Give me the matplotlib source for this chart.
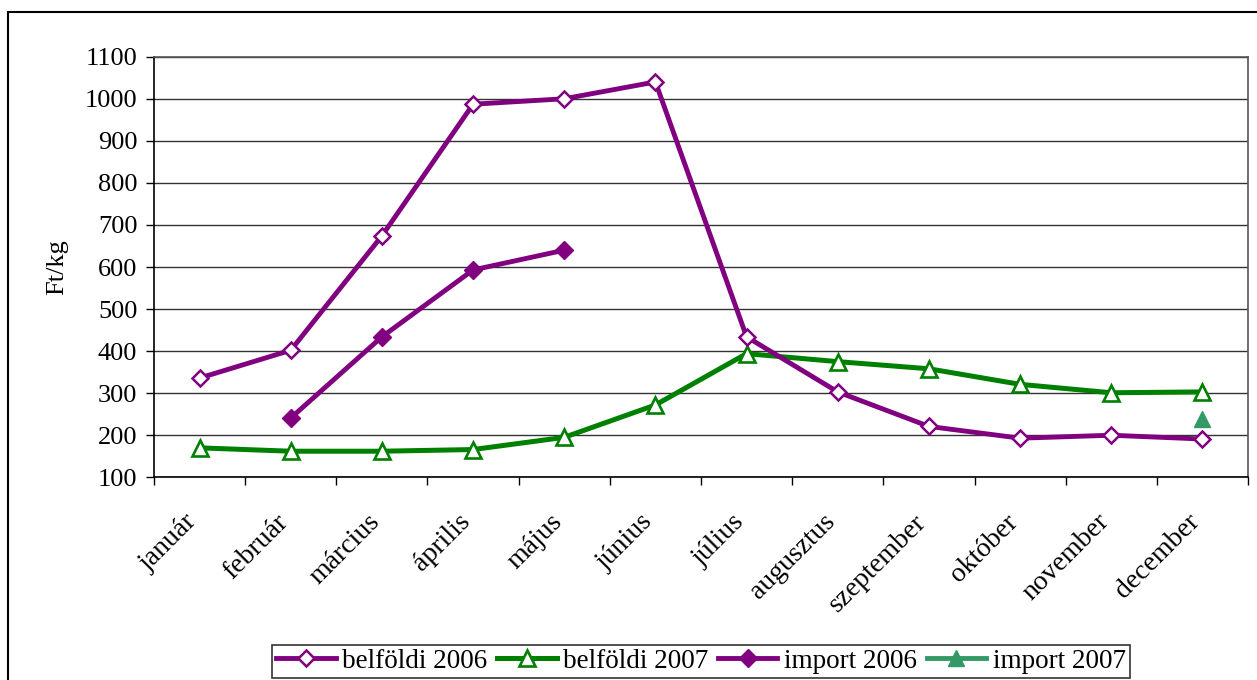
import matplotlib
matplotlib.use("Agg")
import matplotlib.pyplot as plt
from matplotlib.patches import Rectangle
import matplotlib.transforms as mtransforms
import numpy as np

months = ["január", "február", "március", "április", "május", "június",
          "július", "augusztus", "szeptember", "október", "november", "december"]
belfoldi_2006 = [336, 402, 674, 987, 1000, 1040, 434, 303, 221, 193, 200, 191]
belfoldi_2007 = [170, 162, 162, 166, 195, 272, 394, 375, 358, 321, 301, 303]
import_2006 = [None, 241, 434, 593, 640, None, None, None, None, None, None, None]
import_2007 = [None, None, None, None, None, None, None, None, None, None, None, 239]
y_ticks = list(range(100, 1101, 100))

plt.rcParams['font.family'] = ['Liberation Serif', 'DejaVu Serif']

W, H = 1257, 680
fig = plt.figure(figsize=(W / 100, H / 100), dpi=100)

def to_arr(v):
    return np.array([np.nan if x is None else x for x in v], dtype=float)

ax = fig.add_axes([154 / W, 1 - 477.3 / H, (1248 - 154) / W, (477.3 - 56.7) / H])
x = np.arange(len(months))

purple = "#800080"
green = "#008000"
green2 = "#339966"

l1, = ax.plot(x, to_arr(belfoldi_2006), color=purple, lw=3.5, marker="D", ms=8.5,
              mfc="white", mec=purple, mew=1.8, label="belföldi 2006", zorder=4)
l2, = ax.plot(x, to_arr(belfoldi_2007), color=green, lw=3.6, marker="^", ms=12,
              mfc="white", mec=green, mew=1.9, label="belföldi 2007", zorder=3)
l3, = ax.plot(x, to_arr(import_2006), color=purple, lw=3.5, marker="D", ms=9,
              mfc=purple, mec=purple, label="import 2006", zorder=4)
l4, = ax.plot(x, to_arr(import_2007), color=green2, lw=3.5, marker="^", ms=12,
              mfc=green2, mec=green2, label="import 2007", zorder=4)

ax.set_xlim(-0.5, 11.5)
ax.set_ylim(100, 1100)
ax.set_yticks(y_ticks)
ax.set_yticklabels([str(v) for v in y_ticks], fontsize=19)
ax.tick_params(axis="y", direction="out", length=6, width=1, pad=6)

ax.set_xticks(x)
labels = ax.set_xticklabels(months, rotation=45, ha="right", va="top",
                            rotation_mode="anchor", fontsize=20)
ax.tick_params(axis="x", which="major", length=0, pad=26)
offset = mtransforms.ScaledTranslation(-15 / 100, 4 / 100, fig.dpi_scale_trans)
for lab in labels:
    lab.set_transform(lab.get_transform() + offset)
ax.set_xticks(np.arange(-0.5, 12, 1), minor=True)
ax.tick_params(axis="x", which="minor", direction="out", length=6, width=1)

ax.grid(axis="y", color="#333333", lw=1)
ax.set_axisbelow(True)
for s in ["top", "right"]:
    ax.spines[s].set_color("#555555")
    ax.spines[s].set_linewidth(1.2)
for s in ["left", "bottom"]:
    ax.spines[s].set_color("black")
    ax.spines[s].set_linewidth(1.2)

ax.set_ylabel("Ft/kg", fontsize=19, labelpad=12)

leg = fig.legend(handles=[l1, l2, l3, l4], ncol=4, loc="lower left",
                 bbox_to_anchor=(272 / W, 1 - 678 / H, (1130 - 272) / W, (678 - 637) / H),
                 mode="expand", fontsize=19.5, frameon=True, fancybox=False,
                 edgecolor="black", handlelength=2.2, handletextpad=0.25,
                 columnspacing=0.5, borderpad=0.15, borderaxespad=0)
leg.get_frame().set_linewidth(1.2)

fig.patches.append(Rectangle((8 / W, -0.1), 2, (680 - 12) / H + 0.1,
                             transform=fig.transFigure, fill=False,
                             edgecolor="black", lw=1.5, zorder=0))

fig.savefig("out.png", dpi=100)
